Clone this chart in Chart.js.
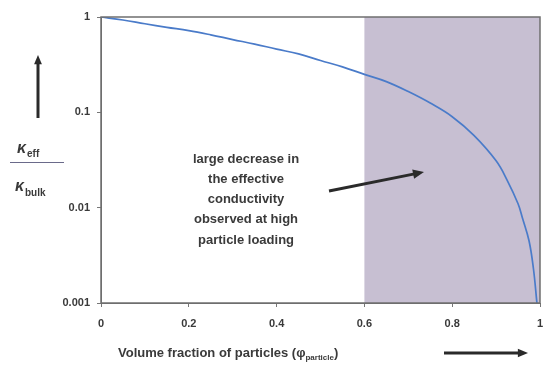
<!DOCTYPE html>
<html>
<head>
<meta charset="utf-8">
<script src="https://cdn.jsdelivr.net/npm/chart.js@4/dist/chart.umd.min.js"></script>
<style>
  html, body { margin: 0; padding: 0; background: #fff; }
  #wrap { position: relative; width: 545px; height: 366px; }
</style>
</head>
<body>
<div id="wrap"><canvas id="chart" aria-label="Effective conductivity chart"></canvas></div>
<script>
// values
const fractions = [0, 0.05, 0.1, 0.15, 0.2, 0.25, 0.3, 0.35, 0.4, 0.45, 0.5, 0.55, 0.6, 0.65, 0.7, 0.75, 0.8, 0.85, 0.9, 0.925, 0.95, 0.96, 0.975, 0.985, 0.993];
const ratios = [1, 0.93, 0.85, 0.78, 0.72, 0.65, 0.58, 0.52, 0.46, 0.41, 0.35, 0.30, 0.25, 0.21, 0.165, 0.125, 0.09, 0.057, 0.031, 0.0195, 0.011, 0.0078, 0.0045, 0.0023, 0.001];
const yTicks = [0.001, 0.01, 0.1, 1];
const xTicks = [0, 0.2, 0.4, 0.6, 0.8, 1];
const shadeFrom = 0.6;
const noteLines = ["large decrease in", "the effective", "conductivity", "observed at high", "particle loading"];

const FONT = "'Liberation Sans', Arial, sans-serif";
const TEXT = "#3a3a3a";

function arrow(ctx, x1, y1, x2, y2, head) {
  const a = Math.atan2(y2 - y1, x2 - x1);
  ctx.beginPath();
  ctx.moveTo(x1, y1);
  ctx.lineTo(x2 - Math.cos(a) * head * 0.8, y2 - Math.sin(a) * head * 0.8);
  ctx.stroke();
  ctx.beginPath();
  ctx.moveTo(x2, y2);
  ctx.lineTo(x2 - head * Math.cos(a - 0.4), y2 - head * Math.sin(a - 0.4));
  ctx.lineTo(x2 - head * Math.cos(a + 0.4), y2 - head * Math.sin(a + 0.4));
  ctx.closePath();
  ctx.fill();
}

const shadePlugin = {
  id: "shade",
  beforeDatasetsDraw(chart) {
    const { ctx, chartArea, scales } = chart;
    const x0 = scales.x.getPixelForValue(shadeFrom);
    ctx.save();
    ctx.fillStyle = "#c7bfd2";
    ctx.fillRect(x0, chartArea.top, chartArea.right - x0, chartArea.bottom - chartArea.top);
    ctx.restore();
  },
  afterDraw(chart) {
    const { ctx, chartArea } = chart;
    ctx.save();
    // frame
    ctx.strokeStyle = "#6f6f6f";
    ctx.lineWidth = 1.5;
    ctx.strokeRect(chartArea.left, chartArea.top, chartArea.right - chartArea.left, chartArea.bottom - chartArea.top);

    ctx.fillStyle = TEXT;
    ctx.strokeStyle = "#2a2a2a";

    // annotation text
    ctx.font = "bold 13px " + FONT;
    ctx.textAlign = "center";
    ctx.textBaseline = "middle";
    noteLines.forEach((t, i) => ctx.fillText(t, 246, 159 + i * 20.3));
    ctx.lineWidth = 3;
    ctx.fillStyle = "#2a2a2a";
    arrow(ctx, 329, 191, 424, 172, 12);

    // y axis label: kappa_eff / kappa_bulk
    ctx.fillStyle = TEXT;
    ctx.textAlign = "left";
    ctx.textBaseline = "alphabetic";
    ctx.font = "italic bold 16px " + FONT;
    ctx.fillText("\u03BA", 17, 153);
    ctx.fillText("\u03BA", 15, 191);
    ctx.font = "bold 10px " + FONT;
    ctx.fillText("eff", 27, 157);
    ctx.fillText("bulk", 25, 196);
    ctx.strokeStyle = "#6a6a8a";
    ctx.lineWidth = 1;
    ctx.beginPath();
    ctx.moveTo(10, 162.5);
    ctx.lineTo(64, 162.5);
    ctx.stroke();
    ctx.strokeStyle = "#2a2a2a";
    ctx.fillStyle = "#2a2a2a";
    ctx.lineWidth = 3;
    arrow(ctx, 38, 118, 38, 55, 10);

    // x axis title
    ctx.fillStyle = TEXT;
    ctx.font = "bold 13px " + FONT;
    const main = "Volume fraction of particles (\u03C6";
    ctx.fillText(main, 118, 357);
    let x = 118 + ctx.measureText(main).width;
    ctx.font = "bold 8px " + FONT;
    ctx.fillText("particle", x, 360);
    x += ctx.measureText("particle").width;
    ctx.font = "bold 13px " + FONT;
    ctx.fillText(")", x, 357);
    ctx.fillStyle = "#2a2a2a";
    ctx.lineWidth = 3;
    arrow(ctx, 444, 353, 528, 353, 11);
    ctx.restore();
  }
};

new Chart(document.getElementById("chart"), {
  type: "line",
  data: {
    datasets: [{
      data: fractions.map((f, i) => ({ x: f, y: ratios[i] })),
      borderColor: "#4a7bc9",
      borderWidth: 1.7,
      pointRadius: 0,
      tension: 0.4,
      fill: false
    }]
  },
  options: {
    responsive: true,
    maintainAspectRatio: false,
    animation: false,
    layout: { padding: { left: 0, right: 5, top: 17, bottom: 0 } },
    plugins: { legend: { display: false }, tooltip: { enabled: false } },
    scales: {
      x: {
        type: "linear",
        min: 0,
        max: 1,
        afterBuildTicks: (s) => { s.ticks = xTicks.map(v => ({ value: v })); },
        afterFit: (s) => { s.height = 63; s.paddingLeft = 0; s.paddingRight = 0; },
        grid: { drawOnChartArea: false, tickLength: 4, color: "#777" },
        border: { color: "#6f6f6f" },
        ticks: {
          padding: 10,
          color: TEXT,
          font: { family: FONT, size: 11, weight: "bold" },
          callback: (v) => String(v)
        }
      },
      y: {
        type: "logarithmic",
        min: 0.001,
        max: 1,
        afterBuildTicks: (s) => { s.ticks = yTicks.map(v => ({ value: v })); },
        afterFit: (s) => { s.width = 101; s.paddingTop = 0; s.paddingBottom = 0; },
        grid: { drawOnChartArea: false, tickLength: 4, color: "#777" },
        border: { color: "#6f6f6f" },
        ticks: {
          padding: 7,
          color: TEXT,
          font: { family: FONT, size: 11, weight: "bold" },
          callback: (v) => String(v)
        }
      }
    }
  },
  plugins: [shadePlugin]
});
</script>
</body>
</html>
